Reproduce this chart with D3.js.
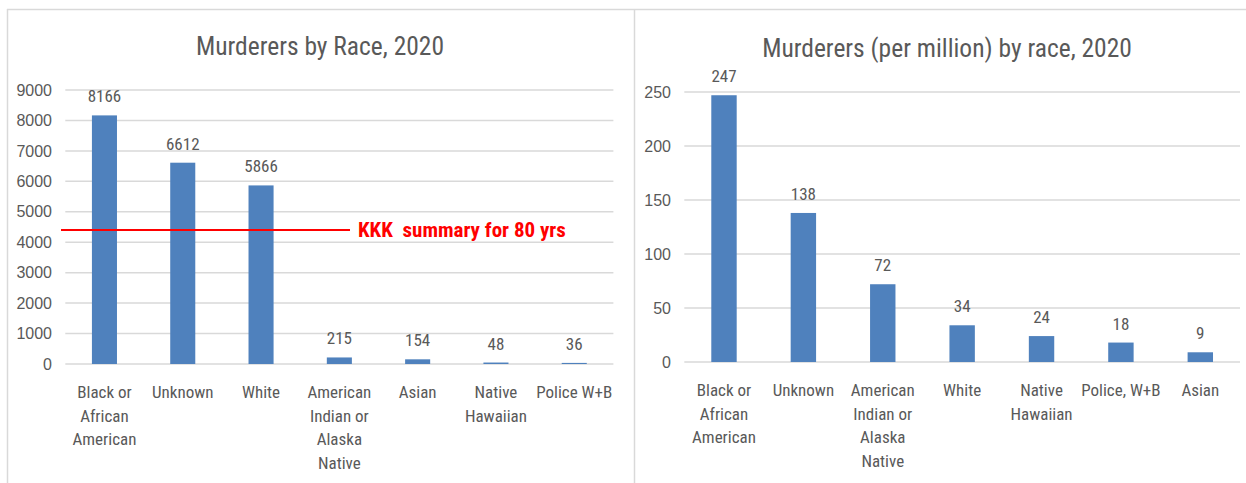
<!DOCTYPE html>
<html>
<head>
<meta charset="utf-8">
<script src="https://cdn.jsdelivr.net/npm/d3@7"></script>
<style>
	body { margin: 0; background: #fff; }
	svg { display: block; font-family: "Liberation Sans Narrow", "Roboto Condensed", "DejaVu Sans Condensed", sans-serif; }
</style>
</head>
<body>
<div id="chart"></div>
<script>
// left chart data
var leftTitle = "Murderers by Race, 2020";
var leftCategories = [
	["Black or", "African", "American"],
	["Unknown"],
	["White"],
	["American", "Indian or", "Alaska", "Native"],
	["Asian"],
	["Native", "Hawaiian"],
	["Police W+B"]
];
var leftValues = [8166, 6612, 5866, 215, 154, 48, 36];
var leftTicks = [0, 1000, 2000, 3000, 4000, 5000, 6000, 7000, 8000, 9000];
var kkkValue = 4400;
var kkkLabel = "KKK  summary for 80 yrs";

// right chart data
var rightTitle = "Murderers (per million) by race, 2020";
var rightCategories = [
	["Black or", "African", "American"],
	["Unknown"],
	["American", "Indian or", "Alaska", "Native"],
	["White"],
	["Native", "Hawaiian"],
	["Police, W+B"],
	["Asian"]
];
var rightValues = [247, 138, 72, 34, 24, 18, 9];
var rightTicks = [0, 50, 100, 150, 200, 250];

var width = 1246, height = 483;
var barColor = "#4f81bd";
var textColor = "#595959";
var gridColor = "#d9d9d9";

var svg = d3.select("#chart").append("svg")
	.attr("width", width)
	.attr("height", height);

// panel frames
svg.append("line")
	.attr("x1", 7).attr("x2", width).attr("y1", 9.5).attr("y2", 9.5)
	.attr("stroke", gridColor).attr("stroke-width", 1.5);
svg.selectAll(".frame").data([7.5, 634.5])
	.enter().append("line")
	.attr("x1", function(d) { return d; }).attr("x2", function(d) { return d; })
	.attr("y1", 9).attr("y2", height)
	.attr("stroke", gridColor).attr("stroke-width", 1.5);

function drawChart(opts) {
	var x = d3.scaleBand()
		.domain(d3.range(opts.values.length))
		.range([opts.left, opts.right])
		.paddingInner(0.68)
		.paddingOuter(0.34);

	var y = d3.scaleLinear()
		.domain(opts.domain)
		.range([opts.bottom, opts.top]);

	var g = svg.append("g");

	// title
	g.append("text")
		.attr("x", opts.titleX)
		.attr("y", opts.titleY)
		.attr("text-anchor", "middle")
		.attr("fill", textColor)
		.style("font-size", "25.5px")
		.text(opts.title);

	// gridlines
	g.append("g").selectAll("line")
		.data(opts.ticks)
		.enter().append("line")
		.attr("x1", opts.left).attr("x2", opts.right)
		.attr("y1", function(d) { return y(d); })
		.attr("y2", function(d) { return y(d); })
		.attr("stroke", gridColor)
		.attr("stroke-width", 1.5);

	// y axis labels
	var axis = d3.axisLeft(y)
		.tickValues(opts.ticks)
		.tickFormat(d3.format("d"))
		.tickSize(0)
		.tickPadding(0);
	var ax = g.append("g")
		.attr("transform", "translate(" + opts.labelRight + ",0)")
		.call(axis);
	ax.select(".domain").remove();
	ax.selectAll("text")
		.attr("fill", textColor)
		.style("font-size", "16px")
		.style("font-family", null);

	// bars
	g.append("g").selectAll("rect")
		.data(opts.values)
		.enter().append("rect")
		.attr("x", function(d, i) { return x(i); })
		.attr("y", function(d) { return y(d); })
		.attr("width", x.bandwidth())
		.attr("height", function(d) { return y(0) - y(d); })
		.attr("fill", barColor);

	// value labels
	g.append("g").selectAll("text")
		.data(opts.values)
		.enter().append("text")
		.attr("x", function(d, i) { return x(i) + x.bandwidth() / 2; })
		.attr("y", function(d) { return y(d) - 13; })
		.attr("text-anchor", "middle")
		.attr("fill", textColor)
		.style("font-size", "17px")
		.text(function(d) { return d; });

	// category labels
	var cat = g.append("g").selectAll("text")
		.data(opts.categories)
		.enter().append("text")
		.attr("text-anchor", "middle")
		.attr("fill", textColor)
		.style("font-size", "17px");
	cat.selectAll("tspan")
		.data(function(d, i) { return d.map(function(s) { return { s: s, i: i }; }); })
		.enter().append("tspan")
		.attr("x", function(d) { return x(d.i) + x.bandwidth() / 2; })
		.attr("y", function(d, j) { return opts.bottom + 34 + j * 23.5; })
		.text(function(d) { return d.s; });

	return { x: x, y: y, g: g };
}

var left = drawChart({
	title: leftTitle, titleX: 320, titleY: 55,
	categories: leftCategories, values: leftValues, ticks: leftTicks,
	domain: [0, 9000],
	left: 65.3, right: 613.4, top: 90, bottom: 364, labelRight: 52
});

var right = drawChart({
	title: rightTitle, titleX: 947, titleY: 57,
	categories: rightCategories, values: rightValues, ticks: rightTicks,
	domain: [0, 250],
	left: 684.3, right: 1240, top: 92, bottom: 362, labelRight: 671
});

// KKK reference line
left.g.append("line")
	.attr("x1", 61).attr("x2", 350)
	.attr("y1", left.y(kkkValue)).attr("y2", left.y(kkkValue))
	.attr("stroke", "#ff0000")
	.attr("stroke-width", 2);
left.g.append("text")
	.attr("x", 358)
	.attr("y", left.y(kkkValue) + 7)
	.attr("fill", "#ff0000")
	.style("font-size", "21px")
	.style("font-weight", "bold")
	.style("white-space", "pre")
	.text(kkkLabel);
</script>
</body>
</html>
